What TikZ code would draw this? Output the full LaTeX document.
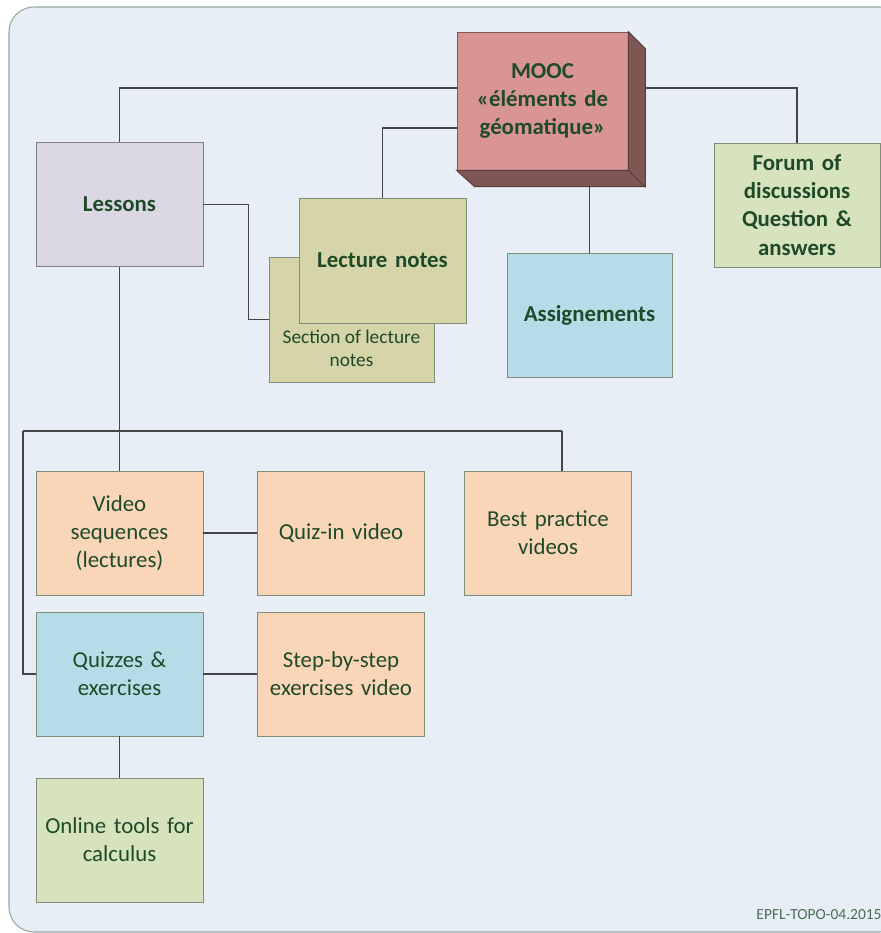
\documentclass[tikz,border=0pt]{standalone}
\usepackage{fontspec}
\setmainfont{Carlito}
\usetikzlibrary{positioning}

\definecolor{bgcol}{HTML}{E7EEF6}
\definecolor{bgline}{HTML}{98A89E}
\definecolor{txtcol}{HTML}{1F4A2A}
\definecolor{linecol}{HTML}{454545}
\definecolor{boxline}{HTML}{7E8C78}
\definecolor{lavcol}{HTML}{DCD7E5}
\definecolor{olivecol}{HTML}{D5D5A9}
\definecolor{bluecol}{HTML}{B6DDE7}
\definecolor{greencol}{HTML}{D6E3BC}
\definecolor{orangecol}{HTML}{FAD6B8}
\definecolor{pinkcol}{HTML}{D99594}
\definecolor{sidecol}{HTML}{7E5653}

\tikzset{
  box/.style={draw=boxline, line width=0.5pt, minimum width=3.34cm, minimum height=2.48cm,
    align=center, text width=3.2cm, inner sep=0pt, text=txtcol,
    font=\fontsize{13}{16}\selectfont},
  bbox/.style={box, font=\fontsize{13}{16}\selectfont\bfseries},
  conn/.style={draw=linecol, line width=0.6pt}
}

\begin{document}
\begin{tikzpicture}[x=0.02cm, y=-0.02cm]
\useasboundingbox (0,0) rectangle (880,933);
\draw[fill=bgcol, draw=bgline, line width=0.6pt, rounded corners=0.5cm] (9,7) rectangle (905,932);

% top row
\node[bbox, fill=pinkcol, draw=sidecol, minimum width=3.42cm, minimum height=2.76cm] (mooc) at (542.5,101)
  {MOOC\\«éléments de\\géomatique»};
\node[bbox, fill=lavcol, draw=gray] (lessons) at (119.5,204.5) {Lessons};
\node[box, fill=olivecol, draw=boxline, minimum width=3.3cm, minimum height=2.5cm,
  label={[anchor=south, yshift=0.2cm, align=center, text=txtcol, font=\fontsize{11}{13}\selectfont]south:{Section of lecture\\notes}}]
  (section) at (351.5,319.5) {};
\node[bbox, fill=olivecol, minimum height=2.5cm] (lnotes) at (382.5,260.5) {Lecture notes};
\node[bbox, fill=bluecol, minimum width=3.3cm] (assign) at (589.5,315) {Assignements};
\node[bbox, fill=greencol, minimum width=3.32cm] (forum) at (797,205) {Forum of\\discussions\\Question \&\\answers};

% videos and exercises
\node[box, fill=orangecol] (video) at (119.5,533) {Video\\sequences\\(lectures)};
\node[box, fill=orangecol] (quizin) at (341,533) {Quiz-in video};
\node[box, fill=orangecol] (best) at (548,533) {Best practice\\videos};
\node[box, fill=bluecol] (quizzes) at (119.5,674) {Quizzes \&\\exercises};
\node[box, fill=orangecol] (step) at (341,674) {Step-by-step\\exercises video};
\node[box, fill=greencol] (online) at (119.5,840) {Online tools for\\calculus};

\node[text=txtcol!80, font=\fontsize{8.8}{10}\selectfont] (epfl) at (819,915) {EPFL-TOPO-04.2015};

% connectors
\coordinate (busl) at (23,431);
\coordinate (busr) at (562,431);
\draw[conn] (lessons.north) |- ([yshift=0.26cm]mooc.west);
\draw[conn] ([yshift=0.26cm]mooc.east) -| (forum.north);
\draw[conn] ([yshift=-0.54cm]mooc.west) -| (lnotes.north);
\draw[conn] (assign.north) -- (assign.north |- mooc.south);
\draw[conn] (lessons.east) -| ([xshift=-0.4cm]section.west) -- (section.west);
\draw[conn] (lessons.south) -- (video.north);
\draw[conn] (busl) -- (busr);
\draw[conn] (busr) -- (busr |- best.north);
\draw[conn] (busl) |- (quizzes.west);
\draw[conn] (video) -- (quizin);
\draw[conn] (quizzes) -- (step);
\draw[conn] (quizzes) -- (online);

% depth of the MOOC block
\filldraw[fill=sidecol, draw=sidecol!70!black, line width=0.5pt]
  (mooc.north east) -- ++(17,17) -- ++(0,138) -- ++(-171,0) -- (mooc.south west) -- (mooc.south east) -- cycle;
\draw[sidecol!70!black, line width=0.5pt] (mooc.south east) -- ++(17,17);
\end{tikzpicture}
\end{document}
